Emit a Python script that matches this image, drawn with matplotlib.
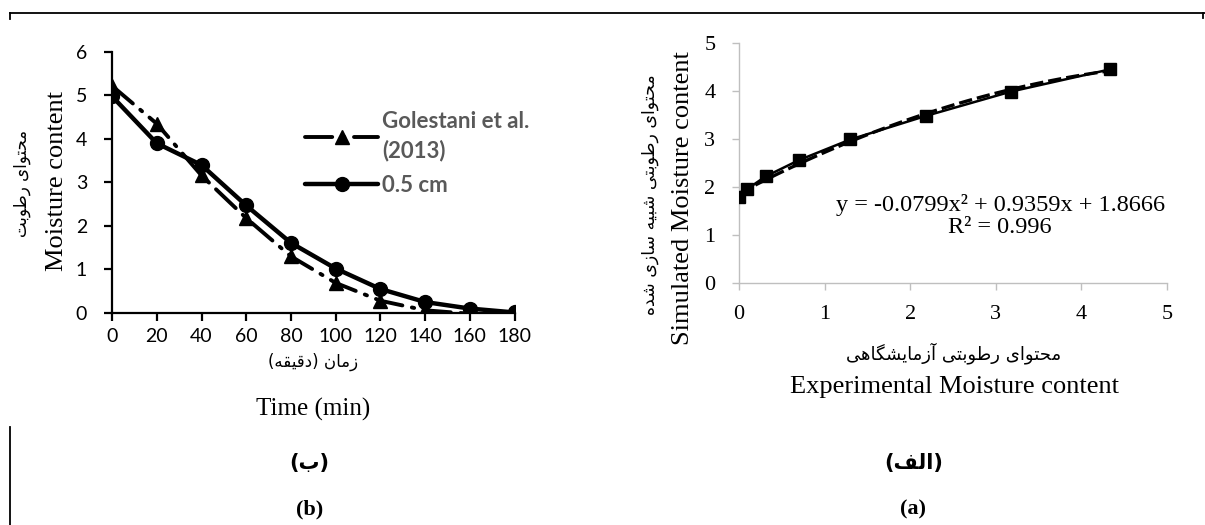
import matplotlib
matplotlib.use("Agg")
import matplotlib.pyplot as plt
from matplotlib.lines import Line2D
import numpy as np

# ---- data: panel (b) drying curves ----
TIME_MIN = [0, 20, 40, 60, 80, 100, 120, 140, 160, 180]
MC_05CM = [4.98, 3.90, 3.40, 2.47, 1.61, 1.02, 0.55, 0.25, 0.10, 0.01]
TIME_GOL = [0, 20, 40, 60, 80, 100, 120, 140, 160]
MC_GOL = [5.22, 4.35, 3.16, 2.18, 1.30, 0.69, 0.28, 0.06, -0.02]
LEGEND_B = ["Golestani et al.\n(2013)", "0.5 cm"]

# ---- data: panel (a) simulated vs experimental ----
EXP_MC = [0.0, 0.09, 0.31, 0.70, 1.30, 2.18, 3.18, 4.33]
SIM_MC = [1.79, 1.95, 2.22, 2.56, 2.99, 3.48, 3.99, 4.45]
TREND = [-0.0799, 0.9359, 1.8666]  # polynomial trendline shown on chart
R2 = 0.996

# ---- minimal Persian shaping (matplotlib has no bidi/joining) ----
FORMS = {
    "\u0627": ("\uFE8D", "\uFE8E", None, None),
    "\u0622": ("\uFE81", "\uFE82", None, None),
    "\u0628": ("\uFE8F", "\uFE90", "\uFE91", "\uFE92"),
    "\u062A": ("\uFE95", "\uFE96", "\uFE97", "\uFE98"),
    "\u062D": ("\uFEA1", "\uFEA2", "\uFEA3", "\uFEA4"),
    "\u062F": ("\uFEA9", "\uFEAA", None, None),
    "\u0631": ("\uFEAD", "\uFEAE", None, None),
    "\u0632": ("\uFEAF", "\uFEB0", None, None),
    "\u0633": ("\uFEB1", "\uFEB2", "\uFEB3", "\uFEB4"),
    "\u0634": ("\uFEB5", "\uFEB6", "\uFEB7", "\uFEB8"),
    "\u0637": ("\uFEC1", "\uFEC2", "\uFEC3", "\uFEC4"),
    "\u0641": ("\uFED1", "\uFED2", "\uFED3", "\uFED4"),
    "\u0642": ("\uFED5", "\uFED6", "\uFED7", "\uFED8"),
    "\u0644": ("\uFEDD", "\uFEDE", "\uFEDF", "\uFEE0"),
    "\u0645": ("\uFEE1", "\uFEE2", "\uFEE3", "\uFEE4"),
    "\u0646": ("\uFEE5", "\uFEE6", "\uFEE7", "\uFEE8"),
    "\u0647": ("\uFEE9", "\uFEEA", "\uFEEB", "\uFEEC"),
    "\u0648": ("\uFEED", "\uFEEE", None, None),
    "\u06CC": ("\uFBFC", "\uFBFD", "\uFBFE", "\uFBFF"),
    "\u06AF": ("\uFB92", "\uFB93", "\uFB94", "\uFB95"),
}


def fa(text):
    out = []
    for i, ch in enumerate(text):
        if ch not in FORMS:
            out.append(ch)
            continue
        iso, fin, ini, med = FORMS[ch]
        prev = text[i - 1] if i > 0 else ""
        nxt = text[i + 1] if i + 1 < len(text) else ""
        jp = prev in FORMS and FORMS[prev][2] is not None
        jn = ini is not None and nxt in FORMS
        if jp and jn:
            out.append(med)
        elif jp:
            out.append(fin)
        elif jn:
            out.append(ini)
        else:
            out.append(iso)
    return "".join(out)[::-1].translate(str.maketrans("()", ")("))


FA_FONT = ["DejaVu Sans"]
SERIF = ["Liberation Serif", "DejaVu Serif"]
SANS = ["Lato", "DejaVu Sans"]

fig = plt.figure(figsize=(12.05, 5.25), dpi=100)

# ---------------- panel (b) ----------------
axb = fig.add_axes([0.093, 0.404, 0.334, 0.497])
axb.plot(TIME_MIN, MC_05CM, color="black", lw=3.2, marker="o", ms=10,
         solid_capstyle="round", label=LEGEND_B[1], zorder=3)
axb.plot(TIME_GOL, MC_GOL, color="black", lw=2.8, marker="^", ms=10,
         linestyle=(0, (7, 2.5, 0.6, 2.5)), dash_capstyle="round",
         label=LEGEND_B[0], zorder=2)
axb.set_xlim(0, 180)
axb.set_ylim(0, 6)
axb.set_xticks(TIME_MIN)
axb.set_yticks(range(7))
for s in ["top", "right"]:
    axb.spines[s].set_visible(False)
for s in ["left", "bottom"]:
    axb.spines[s].set_linewidth(1.6)
axb.tick_params(direction="out", length=6, width=1.6, labelsize=14)
axb.tick_params(axis="y", pad=12)
axb.tick_params(axis="x", pad=5)
for lab in axb.get_xticklabels() + axb.get_yticklabels():
    lab.set_family(SANS)

h, l = axb.get_legend_handles_labels()
leg = axb.legend([h[1], h[0]], [l[1], l[0]], loc="upper left",
                 bbox_to_anchor=(0.43, 0.85), frameon=False, handlelength=3.3,
                 handletextpad=0.15, labelspacing=0.6,
                 prop={"family": SANS, "weight": "bold", "size": 16})
for t in leg.get_texts():
    t.set_color("#595959")
    t.set_linespacing(1.45)

fig.text(0.018, 0.65, fa("محتوای رطوبت"), rotation=90, ha="center", va="center",
         family=FA_FONT, fontsize=12)
fig.text(0.047, 0.655, "Moisture content", rotation=90, ha="center", va="center",
         family=SERIF, fontsize=19)
fig.text(0.26, 0.31, fa("زمان (دقیقه)"), ha="center", va="center",
         family=FA_FONT, fontsize=12)
fig.text(0.26, 0.221, "Time (min)", ha="center", va="center",
         family=SERIF, fontsize=18)

# ---------------- panel (a) ----------------
axa = fig.add_axes([0.6133, 0.461, 0.3552, 0.457])
xs = np.linspace(min(EXP_MC), max(EXP_MC), 100)
axa.plot(xs, np.polyval(TREND, xs), color="black", lw=2.4,
         linestyle=(0, (4, 1.5)), zorder=2)
axa.plot(EXP_MC, SIM_MC, color="black", lw=1.8, marker="s", ms=8, zorder=3)
axa.set_xlim(0, 5)
axa.set_ylim(0, 5)
axa.set_xticks(range(6))
axa.set_yticks(range(6))
for s in ["top", "right"]:
    axa.spines[s].set_visible(False)
for s in ["left", "bottom"]:
    axa.spines[s].set_color("#BFBFBF")
    axa.spines[s].set_linewidth(1.0)
axa.tick_params(direction="out", length=5, width=1.0, color="#BFBFBF",
                labelsize=16)
axa.tick_params(axis="y", pad=12)
axa.tick_params(axis="x", pad=11)
for lab in axa.get_xticklabels() + axa.get_yticklabels():
    lab.set_family(SERIF)

axa.text(0.61, 0.28,
         "y = {:.4f}x² + {:.4f}x + {:.4f}\nR² = {:.3f}".format(TREND[0], TREND[1], TREND[2], R2),
         transform=axa.transAxes, ha="center", va="center", family=SERIF,
         fontsize=17.5, linespacing=1.05)

fig.text(0.5395, 0.63, fa("محتوای رطوبتی شبیه سازی شده"), rotation=90,
         ha="center", va="center", family=FA_FONT, fontsize=12.5)
fig.text(0.5667, 0.623, "Simulated Moisture content", rotation=90,
         ha="center", va="center", family=SERIF, fontsize=19)
fig.text(0.791, 0.327, fa("محتوای رطوبتی آزمایشگاهی"), ha="center", va="center",
         family=FA_FONT, fontsize=13)
fig.text(0.792, 0.262, "Experimental Moisture content", ha="center", va="center",
         family=SERIF, fontsize=19)

# ---------------- captions ----------------
fig.text(0.257, 0.118, fa("(ب)"), ha="center", va="center", family=FA_FONT,
         fontsize=15, weight="bold")
fig.text(0.257, 0.029, "(b)", ha="center", va="center", family=SERIF,
         fontsize=16, weight="bold")
fig.text(0.758, 0.118, fa("(الف)"), ha="center", va="center", family=FA_FONT,
         fontsize=15, weight="bold")
fig.text(0.758, 0.029, "(a)", ha="center", va="center", family=SERIF,
         fontsize=16, weight="bold")

# ---------------- table borders ----------------
top = 1 - 13 / 525
fig.add_artist(Line2D([0.008, 1.0], [top, top], color="black", lw=1.3))
fig.add_artist(Line2D([0.008, 0.008], [top, top - 0.012], color="black", lw=1.3))
fig.add_artist(Line2D([0.998, 0.998], [top, top - 0.01], color="black", lw=1.3))
fig.add_artist(Line2D([0.008, 0.008], [0.0, 1 - 427 / 525], color="black", lw=1.3))

fig.savefig("out.png", dpi=100)
